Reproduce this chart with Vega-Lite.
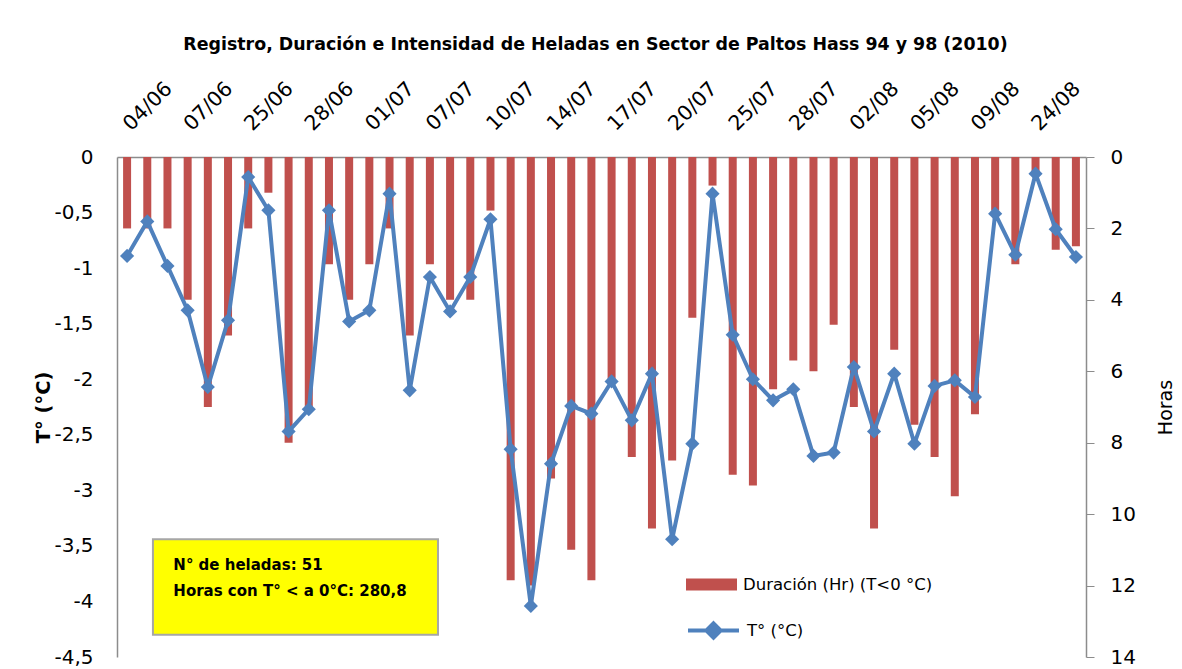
{
  "$schema": "https://vega.github.io/schema/vega-lite/v6.json",
  "width": 969,
  "height": 500,
  "autosize": "none",
  "padding": {"left": 117, "top": 157, "right": 96, "bottom": 12},
  "background": "white",
  "title": {
    "text": "Registro, Duración e Intensidad de Heladas en Sector de Paltos Hass 94 y 98  (2010)",
    "font": "DejaVu Sans",
    "fontSize": 17.4,
    "fontWeight": "bold",
    "color": "#000000",
    "anchor": "middle",
    "dx": -6,
    "offset": 25
  },
  "config": {
    "font": "DejaVu Sans",
    "view": {"stroke": null},
    "axis": {"grid": false, "labelColor": "#000000", "titleColor": "#000000", "domainColor": "#8c8c8c", "domainWidth": 1.5, "tickColor": "#8c8c8c", "labelFont": "DejaVu Sans", "titleFont": "DejaVu Sans"},
    "legend": {"labelFont": "DejaVu Sans", "labelFontSize": 16.5, "labelColor": "#000000", "labelLimit": 0, "padding": 0, "title": null}
  },
  "datasets": {
    "heladas": [
      {"fecha": "04/06", "horas": 2.0, "temp": -0.89},
      {"fecha": "05/06", "horas": 2.0, "temp": -0.58},
      {"fecha": "06/06", "horas": 2.0, "temp": -0.98},
      {"fecha": "07/06", "horas": 4.0, "temp": -1.38},
      {"fecha": "08/06", "horas": 7.0, "temp": -2.07},
      {"fecha": "24/06", "horas": 5.0, "temp": -1.47},
      {"fecha": "25/06", "horas": 2.0, "temp": -0.18},
      {"fecha": "26/06", "horas": 1.0, "temp": -0.48},
      {"fecha": "27/06", "horas": 8.0, "temp": -2.47},
      {"fecha": "28/06", "horas": 7.0, "temp": -2.27},
      {"fecha": "29/06", "horas": 3.0, "temp": -0.48},
      {"fecha": "30/06", "horas": 4.0, "temp": -1.48},
      {"fecha": "01/07", "horas": 3.0, "temp": -1.38},
      {"fecha": "02/07", "horas": 2.0, "temp": -0.33},
      {"fecha": "06/07", "horas": 5.0, "temp": -2.10},
      {"fecha": "07/07", "horas": 3.0, "temp": -1.08},
      {"fecha": "08/07", "horas": 4.0, "temp": -1.39},
      {"fecha": "09/07", "horas": 4.0, "temp": -1.08},
      {"fecha": "10/07", "horas": 1.5, "temp": -0.56},
      {"fecha": "11/07", "horas": 11.85, "temp": -2.63},
      {"fecha": "12/07", "horas": 12.0, "temp": -4.04},
      {"fecha": "14/07", "horas": 9.0, "temp": -2.76},
      {"fecha": "15/07", "horas": 11.0, "temp": -2.24},
      {"fecha": "16/07", "horas": 11.85, "temp": -2.31},
      {"fecha": "17/07", "horas": 6.3, "temp": -2.02},
      {"fecha": "18/07", "horas": 8.4, "temp": -2.37},
      {"fecha": "19/07", "horas": 10.4, "temp": -1.95},
      {"fecha": "20/07", "horas": 8.5, "temp": -3.44},
      {"fecha": "21/07", "horas": 4.5, "temp": -2.58},
      {"fecha": "24/07", "horas": 0.8, "temp": -0.33},
      {"fecha": "25/07", "horas": 8.9, "temp": -1.60},
      {"fecha": "26/07", "horas": 9.2, "temp": -2.00},
      {"fecha": "27/07", "horas": 6.5, "temp": -2.19},
      {"fecha": "28/07", "horas": 5.7, "temp": -2.09},
      {"fecha": "29/07", "horas": 6.0, "temp": -2.69},
      {"fecha": "31/07", "horas": 4.7, "temp": -2.66},
      {"fecha": "02/08", "horas": 7.0, "temp": -1.89},
      {"fecha": "03/08", "horas": 10.4, "temp": -2.47},
      {"fecha": "04/08", "horas": 5.4, "temp": -1.95},
      {"fecha": "05/08", "horas": 7.5, "temp": -2.58},
      {"fecha": "06/08", "horas": 8.4, "temp": -2.06},
      {"fecha": "07/08", "horas": 9.5, "temp": -2.01},
      {"fecha": "09/08", "horas": 7.2, "temp": -2.16},
      {"fecha": "10/08", "horas": 1.5, "temp": -0.51},
      {"fecha": "23/08", "horas": 3.0, "temp": -0.88},
      {"fecha": "24/08", "horas": 0.5, "temp": -0.15},
      {"fecha": "25/08", "horas": 2.6, "temp": -0.65},
      {"fecha": "26/08", "horas": 2.5, "temp": -0.90}
    ]
  },
  "layer": [
    {
      "data": {"name": "heladas"},
      "mark": {"type": "bar", "width": 8},
      "encoding": {
        "x": {
          "field": "fecha", "type": "ordinal", "sort": null,
          "scale": {"type": "band", "paddingInner": 0, "paddingOuter": 0},
          "axis": {
            "orient": "top", "title": null, "ticks": false, "labelAngle": -45,
            "labelAlign": "left", "labelBaseline": "middle", "labelPadding": 30,
            "labelFontSize": 20.5, "labelOverlap": false, "labelBound": false,
            "values": ["04/06", "07/06", "25/06", "28/06", "01/07", "07/07", "10/07", "14/07", "17/07", "20/07", "25/07", "28/07", "02/08", "05/08", "09/08", "24/08"]
          }
        },
        "y": {
          "field": "horas", "type": "quantitative",
          "scale": {"domain": [0, 14], "reverse": true, "nice": false},
          "axis": {
            "orient": "right", "title": "Horas", "titleFontSize": 19, "titleFontWeight": "normal",
            "titleAngle": 270, "titlePadding": 40, "values": [0, 2, 4, 6, 8, 10, 12, 14],
            "tickSize": 8, "labelPadding": 16, "labelFontSize": 20
          }
        },
        "fill": {
          "datum": "Duración (Hr) (T<0 °C)",
          "scale": {"range": ["#C0504D"]},
          "legend": {
            "orient": "none", "legendX": 569, "legendY": 402,
            "symbolType": "M-1,-0.235H1V0.235H-1Z", "symbolSize": 2601, "symbolStrokeWidth": 0, "labelOffset": 6
          }
        }
      }
    },
    {
      "data": {"name": "heladas"},
      "layer": [
        {
          "mark": {"type": "line", "strokeWidth": 4},
          "encoding": {
            "stroke": {
              "datum": "T° (°C)",
              "scale": {"range": ["#4F81BD"]},
              "legend": {
                "orient": "none", "legendX": 569, "legendY": 446,
                "symbolType": "M-1,0H1M0,-0.28L0.28,0L0,0.28L-0.28,0Z", "symbolSize": 2601,
                "symbolStrokeWidth": 4, "symbolFillColor": "#4F81BD", "labelOffset": 6
              }
            }
          }
        },
        {
          "mark": {"type": "point", "shape": "diamond", "filled": true, "size": 200, "color": "#4F81BD", "opacity": 1},
          "encoding": {}
        }
      ],
      "encoding": {
        "x": {"field": "fecha", "type": "ordinal", "sort": null, "scale": {"type": "point", "padding": 0.5}, "axis": null},
        "y": {
          "field": "temp", "type": "quantitative",
          "scale": {"domain": [-4.5, 0], "nice": false},
          "axis": {
            "orient": "left", "title": "T° (°C)", "titleFontSize": 19.5, "titleFontWeight": "bold",
            "titlePadding": 0, "ticks": false, "labelPadding": 24, "labelFontSize": 20,
            "values": [0, -0.5, -1, -1.5, -2, -2.5, -3, -3.5, -4, -4.5],
            "labelExpr": "replace(toString(datum.value), '.', ',')"
          }
        }
      }
    },
    {
      "data": {"values": [{}]},
      "layer": [
        {
          "mark": {"type": "rect", "fill": "#FFFF00", "stroke": "#A6A6A6", "strokeWidth": 2},
          "encoding": {
            "x": {"datum": 1.78, "type": "quantitative", "scale": {"domain": [0, 48], "nice": false, "zero": false}, "axis": null},
            "x2": {"datum": 15.9},
            "y": {"datum": -3.44, "type": "quantitative", "scale": {"domain": [-4.5, 0], "nice": false}, "axis": null},
            "y2": {"datum": -4.3}
          }
        },
        {
          "mark": {"type": "text", "align": "left", "baseline": "middle", "fontWeight": "bold", "fontSize": 15, "color": "#000000", "lineHeight": 26.6, "font": "DejaVu Sans"},
          "encoding": {
            "x": {"datum": 2.79, "type": "quantitative"},
            "y": {"datum": -3.67, "type": "quantitative"},
            "text": {"value": ["N° de heladas: 51", "Horas con T° < a 0°C: 280,8"]}
          }
        }
      ]
    }
  ],
  "resolve": {"scale": {"x": "independent", "y": "independent"}}
}
